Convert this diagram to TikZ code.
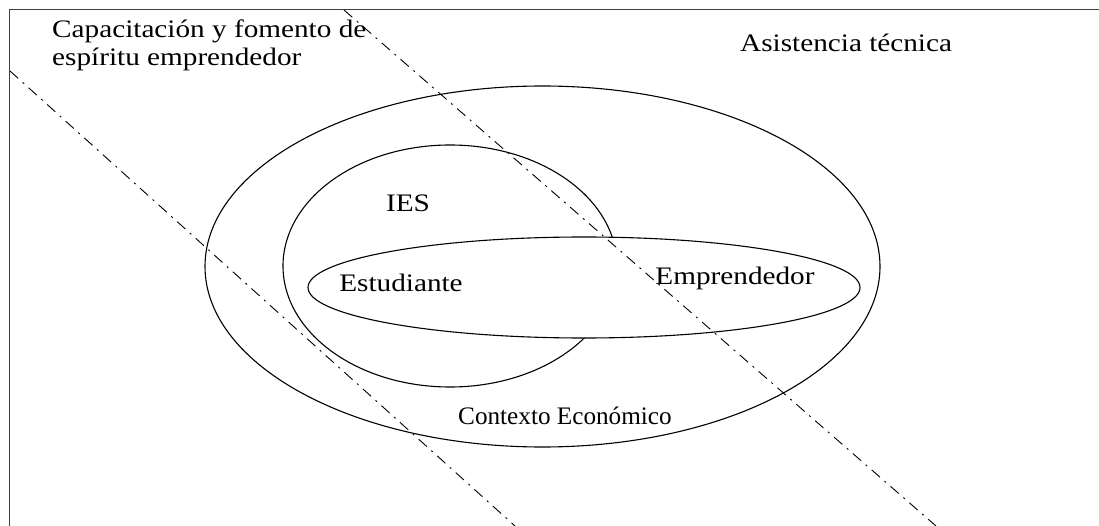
\documentclass[tikz,border=0pt]{standalone}
\usepackage{fontspec}
\setmainfont[FakeStretch=1.16]{Liberation Serif}
\newfontfamily\plainserif{Liberation Serif}
\begin{document}
\begin{tikzpicture}[x=1pt,y=-1pt,
  lbl/.style={inner sep=0pt, font=\fontsize{25.2}{28}\selectfont, text=black},
  narrowlbl/.style={inner sep=0pt, font=\plainserif\fontsize{25.2}{28}\selectfont, text=black},
  ring/.style={draw=black, line width=1.1pt},
  axisline/.style={draw=black, line width=0.9pt, dash pattern=on 11pt off 6pt on 2pt off 6pt},
  framestyle/.style={draw=black!75, line width=1.6pt}]
\useasboundingbox (0,0) rectangle (1099,526);
% frame
\coordinate (fbl) at (9.5,526);
\coordinate (ftl) at (9.5,9.5);
\coordinate (ftr) at (1099,9.5);
\draw[framestyle] (fbl) -- (ftl) -- (ftr);
% ellipses
\coordinate (cout) at (542.5,266.5);
\coordinate (cies) at (450,266);
\coordinate (cest) at (584,287.5);
\draw[ring] (cout) ellipse [x radius=337.5, y radius=180.5];
\draw[ring, fill=white] (cies) ellipse [x radius=167, y radius=121];
\draw[ring, fill=white] (cest) ellipse [x radius=276, y radius=50.5];
% dash-dot lines
\coordinate (l1a) at (10,71);
\coordinate (l1b) at (515,526);
\coordinate (l2a) at (344,10);
\coordinate (l2b) at (936,526);
\draw[axisline] (l1a) -- (l1b);
\draw[axisline] (l2a) -- (l2b);
% labels
\node[lbl, anchor=base west, align=left] (cap) at (52,66) {Capacitación y fomento de\\espíritu emprendedor};
\node[lbl, anchor=base west] (asis) at (740,52) {Asistencia técnica};
\node[lbl, anchor=base] (ies) at (408,212) {IES};
\node[lbl, anchor=base] (est) at (401,291) {Estudiante};
\node[lbl, anchor=base] (emp) at (735,285) {Emprendedor};
\node[narrowlbl, anchor=base west] (ctx) at (458,424) {Contexto Económico};
\end{tikzpicture}
\end{document}
